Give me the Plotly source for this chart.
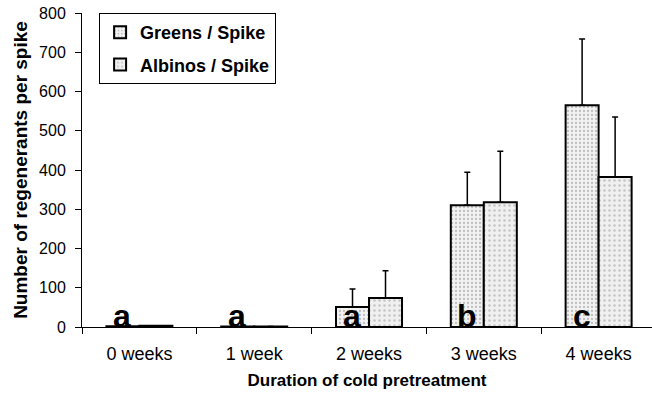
import plotly.graph_objects as go

categories = ["0 weeks", "1 week", "2 weeks", "3 weeks", "4 weeks"]
greens = [2, 1, 51, 310, 565]
greens_err = [0, 0, 46, 84, 169]
albinos = [3, 1, 74, 318, 382]
albinos_err = [0, 0, 69, 130, 153]
letters = ["a", "a", "a", "b", "c"]
y_ticks = [0, 100, 200, 300, 400, 500, 600, 700, 800]

FONT = "Liberation Sans, Arial, Helvetica, sans-serif"

fig = go.Figure()
fig.add_trace(go.Bar(
    name="Greens / Spike", x=categories, y=greens, legendgroup="g",
    marker=dict(color="#f2f2f2", line=dict(color="black", width=2),
                pattern=dict(shape=".", fgcolor="#8a8a8a", bgcolor="#f2f2f2", size=4, solidity=0.25)),
    error_y=dict(type="data", symmetric=False, array=greens_err, arrayminus=[0]*5,
                 color="black", thickness=1.5, width=3),
))
fig.add_trace(go.Bar(
    name="Albinos / Spike", x=categories, y=albinos, legendgroup="a",
    marker=dict(color="#f0f0f0", line=dict(color="black", width=2),
                pattern=dict(shape=".", fgcolor="#999999", bgcolor="#f0f0f0", size=5, solidity=0.2)),
    error_y=dict(type="data", symmetric=False, array=albinos_err, arrayminus=[0]*5,
                 color="black", thickness=1.5, width=3),
))

for c, l in zip(categories, letters):
    fig.add_annotation(x=c, y=0, text="<b>%s</b>" % l, showarrow=False,
                       xref="x", yref="y", xanchor="center", yanchor="bottom",
                       xshift=-17, yshift=-9,
                       font=dict(family=FONT, size=32, color="black"))

fig.update_layout(
    width=652, height=394,
    margin=dict(l=82, r=0, t=13, b=67),
    paper_bgcolor="white", plot_bgcolor="white",
    barmode="group", bargap=0.425, bargroupgap=0,
    font=dict(family=FONT, color="black"),
    showlegend=True,
    legend=dict(x=0.03, y=1.0, xanchor="left", yanchor="top",
                bordercolor="black", borderwidth=1, bgcolor="white",
                font=dict(family=FONT, size=18, color="black", weight="bold"),
                tracegroupgap=6, itemwidth=30),
    xaxis=dict(
        type="category", range=[-0.5, 4.465],
        showline=True, linecolor="black", linewidth=1,
        ticks="outside", tickson="boundaries", ticklen=6, tickcolor="black",
        tickfont=dict(family=FONT, size=18, color="black"),
        ticklabelstandoff=10,
        title=dict(text="<b>Duration of cold pretreatment</b>",
                   font=dict(family=FONT, size=17, color="black"), standoff=11),
        showgrid=False, zeroline=False,
    ),
    yaxis=dict(
        range=[0, 800], tickvals=y_ticks,
        showline=True, linecolor="black", linewidth=1,
        ticks="outside", ticklen=6, tickcolor="black",
        tickfont=dict(family=FONT, size=16, color="black"),
        ticklabelstandoff=6,
        title=dict(text="<b>Number of regenerants per spike</b>",
                   font=dict(family=FONT, size=19, color="black"), standoff=6),
        showgrid=False, zeroline=False,
    ),
)

# remove the browser's default 8px body margin so the figure fills the window
fig.write_html("out.html", config={"displayModeBar": False},
               post_script="document.body.style.margin='0';document.body.style.overflow='hidden';")
